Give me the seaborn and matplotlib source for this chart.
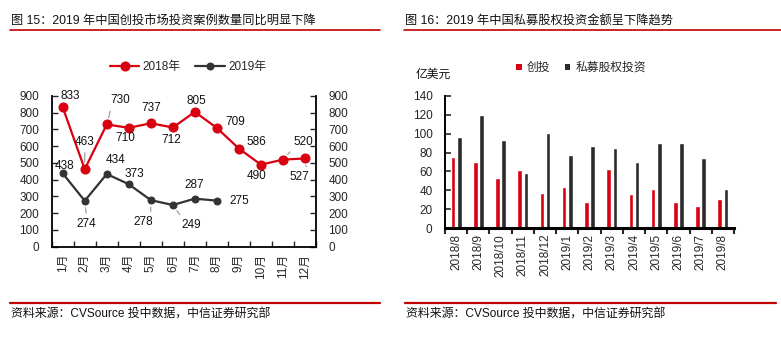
import numpy as np
import pandas as pd
import matplotlib
matplotlib.use("Agg")
import matplotlib.pyplot as plt
import seaborn as sns
from matplotlib.lines import Line2D
from matplotlib.patches import Patch

# ---------------- data ----------------
months = ["1月", "2月", "3月", "4月", "5月", "6月", "7月", "8月", "9月", "10月", "11月", "12月"]
cases_2018 = [833, 463, 730, 710, 737, 712, 805, 709, 586, 490, 520, 527]
cases_2019 = [438, 274, 434, 373, 278, 249, 287, 275]

periods = ["2018/8", "2018/9", "2018/10", "2018/11", "2018/12", "2019/1", "2019/2",
           "2019/3", "2019/4", "2019/5", "2019/6", "2019/7", "2019/8"]
vc_amount = [75, 70, 53, 62, 37, 44, 28, 63, 36, 42, 28, 24, 31]
pe_amount = [96, 120, 93, 58, 101, 77, 87, 85, 70, 90, 90, 74, 41]

series_names = ["创投", "私募股权投资"]
legend_years = ["2018年", "2019年"]

title_left = "图 15：2019 年中国创投市场投资案例数量同比明显下降"
title_right = "图 16：2019 年中国私募股权投资金额呈下降趋势"
source_text = "资料来源：CVSource 投中数据，中信证券研究部"
unit_text = "亿美元"

# ---------------- style ----------------
sns.set_style("white")
plt.rcParams["font.family"] = ["Liberation Sans", "Noto Sans CJK SC"]
plt.rcParams["axes.unicode_minus"] = False

RED = "#D9000F"
DARK = "#333333"
LINE_RED = "#C00000"
FS = 8.5

W, H = 781, 349
fig = plt.figure(figsize=(W / 100, H / 100), dpi=100)


def fx(x):
    return x / W


def fy(y):
    return 1 - y / H


# titles, rules, sources
fig.text(fx(11), fy(22), title_left, fontsize=8.8, ha="left", va="center", color="#111111")
fig.text(fx(405), fy(22), title_right, fontsize=8.8, ha="left", va="center", color="#111111")
for x0, x1 in [(10, 380), (404, 781)]:
    fig.add_artist(Line2D([fx(x0), fx(x1)], [fy(29.5)] * 2, color=LINE_RED, lw=1.2))
for x0, x1 in [(10, 380), (405, 776)]:
    fig.add_artist(Line2D([fx(x0), fx(x1)], [fy(303)] * 2, color=LINE_RED, lw=1.6))
fig.text(fx(11), fy(315), source_text, fontsize=8.6, ha="left", va="center", color="#111111")
fig.text(fx(406), fy(315), source_text, fontsize=8.6, ha="left", va="center", color="#111111")

# ---------------- left chart ----------------
axL = fig.add_axes([fx(51.7), fy(246.7), (316 - 51.7) / W, (246.7 - 96) / H])
df18 = pd.DataFrame({"month": months, "value": cases_2018})
df19 = pd.DataFrame({"month": months[:len(cases_2019)], "value": cases_2019})
sns.lineplot(data=df18, x="month", y="value", sort=False, color=RED, lw=1.6,
             marker="o", markersize=6.5, markeredgecolor=RED, ax=axL, label=legend_years[0])
sns.lineplot(data=df19, x="month", y="value", sort=False, color=DARK, lw=1.6,
             marker="o", markersize=5, markeredgecolor=DARK, ax=axL, label=legend_years[1])

axL.set_xlim(-0.5, len(months) - 0.5)
axL.set_ylim(0, 900)
axL.set_yticks(np.arange(0, 901, 100))
axL.set_xlabel("")
axL.set_ylabel("")
for s in ["left", "right", "bottom"]:
    axL.spines[s].set_visible(True)
    axL.spines[s].set_color("black")
    axL.spines[s].set_linewidth(1.3)
axL.spines["top"].set_visible(False)
axL.yaxis.set_ticks_position("both")
axL.tick_params(axis="y", which="major", direction="in", length=4, width=1,
                labelsize=FS, pad=9, labelright=True, right=True, left=True)
axL.set_xticks(np.arange(len(months)))
axL.set_xticklabels(months, rotation=90)
axL.set_xticks(np.arange(len(months) + 1) - 0.5, minor=True)
axL.tick_params(axis="x", which="major", length=0, labelsize=FS, pad=5)
axL.tick_params(axis="x", which="minor", direction="in", length=4, width=1, bottom=True)

# labels (offsets in pixels, relpos for leader lines)
lab18 = [((8, -11), None), ((0, -27), (0.5, 0)), ((13, -24), (0.1, 0.1)), ((-3, 10), None),
         ((0, -15), None), ((-2, 13), None), ((2, -11), None), ((18, -6), None),
         ((17, -7), None), ((-4, 11), None), ((20, -18), (0.1, 0.1)), ((-6, 19), (0.9, 0.9))]
lab19 = [((2, -7), None), ((2, 23), (0.5, 1)), ((9, -14), None), ((6, -10), None),
         ((-8, 22), (0.9, 1)), ((18, 20), (0.1, 1)), ((-1, -14), None), ((22, 0), None)]
for vals, labs in [(cases_2018, lab18), (cases_2019, lab19)]:
    for i, (v, (off, rp)) in enumerate(zip(vals, labs)):
        kw = {}
        if rp is not None:
            kw["arrowprops"] = dict(arrowstyle="-", color="#A0A0A0", lw=0.9,
                                    relpos=rp, shrinkA=1, shrinkB=5)
        axL.annotate(str(v), xy=(i, v), xytext=(off[0], -off[1]), textcoords="offset pixels",
                     ha="center", va="center", fontsize=FS, color="#111111", **kw)

legL = axL.legend(loc="center", bbox_to_anchor=(fx(188), fy(67)), bbox_transform=fig.transFigure,
                  ncol=2, frameon=False, fontsize=FS, handlelength=2.5, columnspacing=1.2,
                  handletextpad=0.3)

# ---------------- right chart ----------------
axR = fig.add_axes([fx(445), fy(228.3), (734 - 445) / W, (228.3 - 95.7) / H])
dfb = pd.DataFrame({
    "period": periods * 2,
    "value": vc_amount + pe_amount,
    "series": [series_names[0]] * len(periods) + [series_names[1]] * len(periods),
})
sns.barplot(data=dfb, x="period", y="value", hue="series", palette=[RED, "#2B2B2B"],
            width=0.56, gap=0.25, ax=axR, legend=False, saturation=1)
axR.set_xlim(-0.5, len(periods) - 0.5)
axR.set_ylim(0, 140)
axR.set_yticks(np.arange(0, 141, 20))
axR.set_xlabel("")
axR.set_ylabel("")
for s in ["top", "right"]:
    axR.spines[s].set_visible(False)
axR.spines["left"].set_visible(True)
axR.spines["left"].set_color("black")
axR.spines["left"].set_linewidth(1.4)
axR.spines["bottom"].set_visible(True)
axR.spines["bottom"].set_color("black")
axR.spines["bottom"].set_linewidth(2.2)
axR.tick_params(axis="y", direction="in", length=4, width=1.2, labelsize=FS, pad=9, left=True)
axR.set_xticks(np.arange(len(periods)))
axR.set_xticklabels(periods, rotation=90)
axR.set_xticks(np.arange(len(periods) + 1) - 0.5, minor=True)
axR.tick_params(axis="x", which="major", length=0, labelsize=FS, pad=4)
axR.tick_params(axis="x", which="minor", direction="out", length=4, width=1.5, bottom=True)

fig.text(fx(416), fy(75), unit_text, fontsize=FS, ha="left", va="center", color="#111111")
handles = [Patch(facecolor=RED, edgecolor="none"), Patch(facecolor="#2B2B2B", edgecolor="none")]
fig.legend(handles, series_names, loc="center", bbox_to_anchor=(fx(581), fy(68)),
           ncol=2, frameon=False, fontsize=FS, handlelength=0.45, handleheight=0.45,
           handletextpad=0.4, columnspacing=1.3)

fig.savefig("out.png", dpi=100)
